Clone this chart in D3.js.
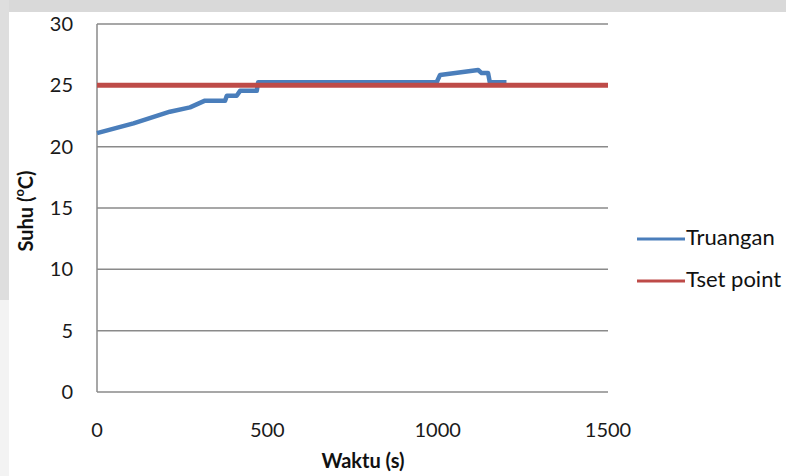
<!DOCTYPE html>
<html><head><meta charset="utf-8">
<script src="https://cdn.jsdelivr.net/npm/d3@7"></script>
<style>html,body{margin:0;padding:0;background:#fff;}svg{display:block;}</style>
</head><body>
<script>
// ---- data ----
const timeS    = [0, 107, 214, 273, 317, 376, 381, 410, 420, 469, 473, 997, 1007, 1119, 1129, 1148, 1153, 1202];
const truangan = [21.1, 21.9, 22.85, 23.2, 23.75, 23.75, 24.15, 24.15, 24.55, 24.55, 25.25, 25.25, 25.85, 26.25, 26.0, 26.0, 25.25, 25.25];
const tsetTime = [0, 1500];
const tsetVal  = [25, 25];
const xTicks = [0, 500, 1000, 1500];
const yTicks = [0, 5, 10, 15, 20, 25, 30];
const seriesNames = ["Truangan", "Tset point"];
const seriesColors = ["#4a7ebb", "#be4b48"];

const W = 786, H = 476;
const svg = d3.select("body").append("svg").attr("width", W).attr("height", H);

// page background (scan border)
svg.append("rect").attr("x",0).attr("y",0).attr("width",W).attr("height",H).attr("fill","#fff");
svg.append("rect").attr("x",0).attr("y",0).attr("width",W).attr("height",12).attr("fill","#d9d9d9");
svg.append("rect").attr("x",0).attr("y",0).attr("width",9).attr("height",300).attr("fill","#dedede");
svg.append("rect").attr("x",0).attr("y",300).attr("width",9).attr("height",176).attr("fill","#f3f3f3");

const x = d3.scaleLinear().domain([0, 1500]).range([97, 608]);
const y = d3.scaleLinear().domain([0, 30]).range([392, 24]);

const font = "Lato, 'Open Sans', sans-serif";

// gridlines
svg.append("g").selectAll("line").data(yTicks).join("line")
  .attr("x1", x(0)).attr("x2", x(1500))
  .attr("y1", d => y(d)).attr("y2", d => y(d))
  .attr("stroke", "#8a8a8a").attr("stroke-width", 1.5);

// left axis line
svg.append("line").attr("x1", x(0)).attr("x2", x(0)).attr("y1", y(0)).attr("y2", y(30))
  .attr("stroke", "#8a8a8a").attr("stroke-width", 1.5);

// y tick labels
svg.append("g").selectAll("text").data(yTicks).join("text")
  .attr("x", 73).attr("y", d => y(d) + 2)
  .attr("text-anchor", "end").attr("dominant-baseline", "middle")
  .attr("font-family", font).attr("font-size", 20).attr("fill", "#1a1a1a")
  .text(d => d);

// x tick labels
svg.append("g").selectAll("text").data(xTicks).join("text")
  .attr("x", d => x(d)).attr("y", 432)
  .attr("text-anchor", "middle").attr("dominant-baseline", "middle")
  .attr("font-family", font).attr("font-size", 20).attr("fill", "#1a1a1a")
  .text(d => d);

// axis titles
svg.append("text").attr("x", 363).attr("y", 463)
  .attr("text-anchor", "middle").attr("dominant-baseline", "middle")
  .attr("font-family", font).attr("font-size", 20).attr("font-weight", "bold").attr("fill", "#111")
  .text("Waktu (s)");

const yt = svg.append("text").attr("transform", "translate(28,211) rotate(-90)")
  .attr("text-anchor", "middle").attr("dominant-baseline", "middle")
  .attr("font-family", font).attr("font-size", 20).attr("font-weight", "bold").attr("fill", "#111");
yt.append("tspan").text("Suhu (");
yt.append("tspan").attr("font-size", 13).attr("dy", -7).text("o");
yt.append("tspan").attr("dy", 7).text("C)");

// lines
const line = d3.line().x(d => x(d[0])).y(d => y(d[1]));
const s1 = timeS.map((t, i) => [t, truangan[i]]);
const s2 = tsetTime.map((t, i) => [t, tsetVal[i]]);
svg.append("path").datum(s1).attr("d", line).attr("fill", "none")
  .attr("stroke", seriesColors[0]).attr("stroke-width", 4.5).attr("stroke-linejoin", "round");
svg.append("path").datum(s2).attr("d", line).attr("fill", "none")
  .attr("stroke", seriesColors[1]).attr("stroke-width", 5);

// legend
const lg = svg.append("g");
seriesNames.forEach((n, i) => {
  const ly = 239 + i * 42;
  lg.append("line").attr("x1", 637).attr("x2", 685).attr("y1", ly).attr("y2", ly)
    .attr("stroke", seriesColors[i]).attr("stroke-width", 3);
  lg.append("text").attr("x", 686).attr("y", ly).attr("dominant-baseline", "middle")
    .attr("font-family", font).attr("font-size", 22).attr("fill", "#111").text(n);
});
</script>
</body></html>
